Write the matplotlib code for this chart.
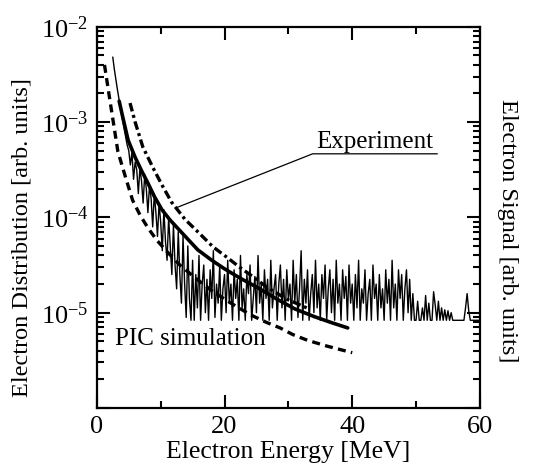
import numpy as np
import matplotlib
matplotlib.use('Agg')
import matplotlib.pyplot as plt
from matplotlib.ticker import FixedLocator, FuncFormatter, MultipleLocator

plt.rcParams['font.family'] = ['Liberation Serif', 'DejaVu Serif']
plt.rcParams['mathtext.fontset'] = 'custom'
plt.rcParams['mathtext.rm'] = 'Liberation Serif'
plt.rcParams['mathtext.it'] = 'Liberation Serif:italic'
plt.rcParams['mathtext.bf'] = 'Liberation Serif:bold'

# ---- data (y given as log10 of the value) ----

# measured spectrum, 0.25 MeV bins starting at 2.5 MeV
exp_start = 2.5
exp_step = 0.25
exp_log = [
    -2.32, -2.45, -2.56, -2.67, -2.77, -2.87, -2.97, -3.06, -3.15, -3.24,   # 2.5 - 4.75
    -3.30, -3.45, -3.32, -3.60, -3.42, -3.50, -3.75, -3.48,   # 5
    -3.62, -3.85, -3.55, -3.70, -3.95, -3.66, -3.80, -4.10,   # 7
    -3.75, -3.95, -4.20, -3.85, -4.05, -4.35, -3.92, -4.25,   # 9
    -4.45, -4.00, -4.30, -4.60, -4.08, -4.50, -4.75, -4.15,   # 11
    -4.60, -4.90, -4.20, -4.70, -5.05, -4.30, -4.85, -5.08,   # 13
    -4.45, -5.08, -4.60, -4.95, -4.40, -5.08, -4.70, -4.50,   # 15
    -5.00, -4.65, -5.08, -4.55, -4.85, -4.35, -5.05, -4.70,   # 17
    -4.90, -4.50, -5.08, -4.75, -4.60, -5.00, -4.45, -4.90,   # 19
    -4.70, -5.08, -4.55, -4.85, -4.65, -5.08, -4.40, -4.95,   # 21
    -4.75, -5.08, -4.60, -4.80, -4.50, -5.08, -4.85, -4.62,   # 23
    -5.00, -4.40, -4.90, -4.70, -5.08, -4.55, -4.85, -4.65,   # 25
    -5.08, -4.45, -4.95, -4.75, -4.60, -5.08, -4.70, -4.50,   # 27
    -4.95, -4.65, -5.08, -4.55, -4.85, -4.70, -5.08, -4.45,   # 29
    -4.90, -4.60, -5.05, -4.75, -4.35, -5.08, -4.65, -4.90,   # 31
    -4.55, -5.08, -4.80, -4.60, -5.00, -4.45, -4.95, -4.70,   # 33
    -5.08, -4.60, -4.85, -4.50, -5.08, -4.75, -4.55, -5.00,   # 35
    -4.65, -5.08, -4.45, -4.90, -4.70, -5.08, -4.55, -4.85,   # 37
    -4.62, -5.08, -4.50, -4.90, -4.70, -5.08, -4.60, -4.95,   # 39
    -4.45, -5.08, -4.75, -4.90, -4.55, -5.08, -4.80, -4.65,   # 41
    -5.08, -4.50, -4.85, -4.70, -5.08, -4.60, -4.95, -4.75,   # 43
    -5.08, -4.55, -4.90, -4.65, -5.08, -4.45, -4.95, -4.70,   # 45
    -5.08, -4.55, -4.85, -4.60, -5.08, -4.75, -4.55, -5.00,   # 47
    -4.65, -5.08, -4.80, -5.08, -5.08, -4.88, -5.08, -5.08,   # 49
    -4.95, -5.08, -4.82, -5.08, -4.90, -5.08, -5.08, -4.78,   # 51
    -4.92, -5.08, -4.88, -5.08, -4.95, -5.08, -4.97, -5.08,   # 53
    -4.98, -5.08, -5.00, -5.08, -5.08, -5.08, -5.08, -5.08,   # 55
    -5.08, -5.08, -5.08, -4.95, -4.80, -4.98, -5.08, -5.08,   # 57
    -5.08, -5.08, -5.08, -5.08, -5.08,                        # 59 - 60
]

# fitted curve (thick solid)
fit_x = [3.5, 4.0, 4.9, 6.0, 7.0, 8.0, 9.0, 10.2, 11.5, 13.3, 15.8, 18.0,
         20.0, 22.5, 25.0, 28.0, 31.0, 34.0, 37.0, 39.3]
fit_log = [-2.78, -2.93, -3.19, -3.37, -3.51, -3.64, -3.78, -3.92, -4.03, -4.16,
           -4.34, -4.45, -4.54, -4.64, -4.73, -4.85, -4.96, -5.04, -5.11, -5.16]

# upper curve (dash-dot)
upper_x = [5.2, 6.0, 7.2, 8.8, 10.2, 11.7, 13.8, 16.1, 18.2, 20.4, 22.5, 24.4,
           26.8, 29.8, 32.9]
upper_log = [-2.80, -3.00, -3.26, -3.48, -3.66, -3.84, -4.02, -4.17, -4.31, -4.42,
             -4.53, -4.62, -4.74, -4.86, -4.95]

# PIC simulation (dashed)
pic_x = [1.2, 2.0, 3.3, 4.5, 5.6, 6.8, 8.0, 9.4, 11.0, 13.0, 15.5, 18.0, 21.0,
         24.0, 26.5, 28.7, 30.7, 33.0, 36.0, 40.0]
pic_log = [-2.40, -2.75, -3.31, -3.58, -3.82, -3.98, -4.11, -4.24, -4.36, -4.50,
           -4.64, -4.77, -4.90, -5.02, -5.10, -5.16, -5.23, -5.29, -5.35, -5.42]

exp_x = exp_start + exp_step*np.arange(len(exp_log))
exp_y = 10.0**np.array(exp_log)

fig = plt.figure(figsize=(5.35, 4.70), dpi=100)
ax = fig.add_axes([0.181, 0.132, 0.716, 0.811])

ax.plot(exp_x, exp_y, color='k', lw=1.0)
ax.plot(fit_x, 10.0**np.array(fit_log), color='k', lw=2.6, solid_capstyle='round')
ax.plot(upper_x, 10.0**np.array(upper_log), color='k', lw=2.4,
        linestyle=(0, (2.6, 1.1, 0.9, 1.1)))
ax.plot(pic_x, 10.0**np.array(pic_log), color='k', lw=2.4,
        linestyle=(0, (2.4, 1.6)))

# label with pointer for the experiment
ax.plot([12.4, 33.8, 53.3], [10**-3.90, 10**-3.333, 10**-3.333], color='k', lw=0.9)
ax.text(43.6, 10**-3.27, 'Experiment', ha='center', va='baseline', fontsize=18)
ax.text(2.8, 10**-5.34, 'PIC simulation', ha='left', va='baseline', fontsize=18)

ax.set_yscale('log')
ax.set_xlim(0, 60)
ax.set_ylim(1e-6, 1e-2)

ax.xaxis.set_major_locator(MultipleLocator(20))
ax.xaxis.set_minor_locator(MultipleLocator(10))
ax.yaxis.set_major_locator(FixedLocator([1e-6, 1e-5, 1e-4, 1e-3, 1e-2]))
minors = [m*10.0**e for e in range(-6, -2) for m in range(2, 10)]
ax.yaxis.set_minor_locator(FixedLocator(minors))

def ylab(v, pos):
    e = int(round(np.log10(v)))
    if e < -5:
        return ''
    return r'$10^{%d}$' % e

ax.yaxis.set_major_formatter(FuncFormatter(ylab))
ax.yaxis.set_minor_formatter(FuncFormatter(lambda v, p: ''))

ax.tick_params(which='both', direction='in', top=True, right=True, width=1.5,
               labelsize=19, pad=6)
ax.tick_params(which='major', length=9.5)
ax.tick_params(which='minor', length=5)
for s in ax.spines.values():
    s.set_linewidth(1.6)

ax.set_xlabel('Electron Energy [MeV]', fontsize=18.5, labelpad=2)
ax.set_ylabel('Electron Distribution [arb. units]', fontsize=17.5)
ax.yaxis.set_label_coords(-0.167, 0.446)
fig.text(0.948, 0.51, 'Electron Signal [arb. units]', rotation=270,
         ha='center', va='center', fontsize=17.5)

fig.savefig('out.png', dpi=100, facecolor='white')
